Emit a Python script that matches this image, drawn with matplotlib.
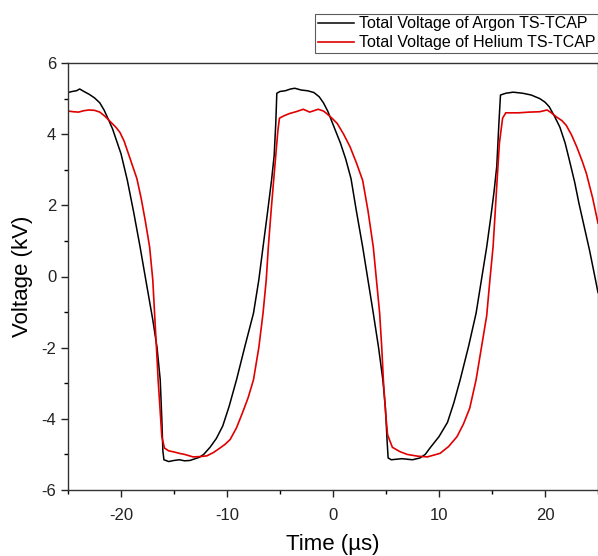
import matplotlib
matplotlib.use("Agg")
import matplotlib.pyplot as plt
from matplotlib.ticker import MultipleLocator

plt.rcParams['font.family'] = ['Liberation Sans', 'DejaVu Sans']

# Argon TS-TCAP (black): time (µs), voltage (kV)
argon_t = [-25.0, -24.6, -24.2, -23.9, -23.5, -23.0, -22.5, -22.0, -21.6, -21.2,
           -20.8, -20.4, -20.0, -19.4, -18.8, -18.2, -17.6, -17.0, -16.6, -16.3,
           -16.15, -16.05, -15.95, -15.5, -15.0, -14.5, -14.0, -13.5, -13.0, -12.6,
           -12.2, -11.6, -11.0, -10.4, -9.8, -9.1, -8.3, -7.5, -7.0, -6.6,
           -6.2, -5.8, -5.55, -5.4, -5.3, -5.0, -4.5, -4.0, -3.6, -3.0,
           -2.4, -1.8, -1.3, -0.9, -0.5, -0.1, 0.3, 0.7, 1.2, 1.7,
           2.2, 2.8, 3.3, 3.8, 4.3, 4.7, 4.95, 5.1, 5.2, 5.5,
           6.5, 7.5, 8.2, 8.7, 9.2, 10.0, 10.8, 11.4, 12.0, 12.8,
           13.5, 14.0, 14.5, 14.9, 15.2, 15.45, 15.65, 15.8, 16.3, 17.0,
           17.9, 18.7, 19.5, 20.0, 20.4, 20.9, 21.4, 21.9, 22.3, 22.8,
           23.2, 23.7, 24.2, 24.6, 25.0]
argon_v = [5.17, 5.20, 5.22, 5.27, 5.20, 5.12, 5.02, 4.88, 4.68, 4.42,
           4.15, 3.80, 3.45, 2.70, 1.80, 0.83, -0.20, -1.22, -2.00, -2.90,
           -4.00, -4.90, -5.15, -5.20, -5.17, -5.15, -5.18, -5.17, -5.12, -5.08,
           -5.00, -4.80, -4.55, -4.20, -3.65, -2.90, -1.95, -1.03, -0.10, 0.83,
           1.75, 2.70, 3.40, 4.30, 5.15, 5.20, 5.22, 5.27, 5.29, 5.24,
           5.22, 5.17, 5.05, 4.88, 4.65, 4.35, 4.05, 3.75, 3.30, 2.75,
           1.85, 0.83, -0.10, -1.03, -2.00, -2.90, -3.70, -4.60, -5.10, -5.15,
           -5.12, -5.15, -5.10, -5.00, -4.80, -4.50, -4.10, -3.55, -2.90, -1.95,
           -1.03, -0.10, 0.83, 1.70, 2.40, 3.10, 4.30, 5.10, 5.15, 5.18,
           5.15, 5.10, 5.00, 4.90, 4.77, 4.50, 4.20, 3.75, 3.27, 2.65,
           2.06, 1.40, 0.74, 0.15, -0.45]

# Helium TS-TCAP (red): time (µs), voltage (kV)
helium_t = [-25.0, -24.5, -24.0, -23.5, -23.0, -22.5, -22.0, -21.5, -21.0, -20.5,
            -20.1, -19.7, -19.3, -18.9, -18.5, -18.1, -17.7, -17.3, -17.0, -16.8,
            -16.6, -16.5, -16.3, -16.15, -15.9, -15.5, -15.0, -14.5, -14.0, -13.2,
            -12.5, -11.9, -11.3, -10.8, -10.2, -9.7, -9.1, -8.5, -8.0, -7.5,
            -7.0, -6.6, -6.3, -6.1, -5.85, -5.6, -5.4, -5.2, -5.05, -4.6,
            -4.1, -3.5, -2.8, -2.2, -1.4, -0.9, -0.6, -0.1, 0.4, 1.0,
            1.6, 2.2, 2.8, 3.3, 3.8, 4.1, 4.4, 4.6, 4.75, 4.95,
            5.15, 5.6, 6.3, 7.0, 8.0, 8.9, 9.5, 10.1, 10.9, 11.7,
            12.3, 12.9, 13.5, 14.0, 14.5, 14.8, 15.1, 15.3, 15.5, 15.7,
            16.0, 16.3, 17.5, 18.5, 19.5, 20.2, 20.6, 21.1, 21.6, 22.0,
            22.5, 23.0, 23.5, 23.9, 24.5, 25.0]
helium_v = [4.65, 4.63, 4.62, 4.66, 4.68, 4.67, 4.62, 4.50, 4.35, 4.20,
            4.05, 3.80, 3.45, 3.10, 2.75, 2.20, 1.55, 0.83, -0.10, -1.22,
            -2.30, -2.90, -3.80, -4.50, -4.82, -4.90, -4.93, -4.97, -5.00, -5.07,
            -5.06, -5.04, -4.95, -4.85, -4.72, -4.58, -4.25, -3.80, -3.40, -2.90,
            -2.00, -1.03, -0.10, 0.83, 1.80, 2.70, 3.40, 4.10, 4.45, 4.52,
            4.58, 4.63, 4.70, 4.62, 4.70, 4.65, 4.58, 4.45, 4.30, 4.00,
            3.65, 3.20, 2.70, 1.85, 0.83, -0.10, -1.03, -2.00, -2.90, -3.80,
            -4.45, -4.80, -4.92, -5.00, -5.05, -5.07, -5.02, -4.97, -4.78, -4.50,
            -4.15, -3.70, -2.90, -2.00, -1.10, -0.10, 0.83, 1.80, 2.80, 3.75,
            4.45, 4.60, 4.60, 4.62, 4.63, 4.68, 4.60, 4.48, 4.38, 4.25,
            3.98, 3.64, 3.25, 2.90, 2.20, 1.50]

xticks = [-20, -10, 0, 10, 20]
yticks = [-6, -4, -2, 0, 2, 4, 6]

fig = plt.figure(figsize=(5.98, 5.56), dpi=100)
ax = fig.add_axes([68/598, 1 - 490/556, (598 - 68)/598, (490 - 63)/556])

ax.plot(argon_t, argon_v, color='black', lw=1.1, label='Total Voltage of Argon TS-TCAP')
ax.plot(helium_t, helium_v, color='#e00000', lw=1.2, label='Total Voltage of Helium TS-TCAP')

ax.set_xlim(-25, 25)
ax.set_ylim(-6, 6)
ax.set_xticks(xticks)
ax.set_yticks(yticks)
ax.set_xticklabels([str(v) for v in xticks])
ax.set_yticklabels([str(v) for v in yticks])
ax.xaxis.set_minor_locator(MultipleLocator(5))
ax.yaxis.set_minor_locator(MultipleLocator(1))
ax.tick_params(which='major', direction='out', length=5, width=1, labelsize=12, colors='#222222')
ax.tick_params(which='minor', direction='out', length=3, width=1)
ax.tick_params(axis='x', pad=8)
for s in ax.spines.values():
    s.set_linewidth(1.0)
    s.set_color('#333333')

ax.set_xlabel('Time (µs)', fontsize=16, labelpad=8)
ax.set_ylabel('Voltage (kV)', fontsize=16, labelpad=6)

leg = ax.legend(loc='upper right', bbox_to_anchor=(1.0, 1 - 14/556),
                bbox_transform=fig.transFigure, fontsize=11.5, frameon=True,
                fancybox=False, borderaxespad=0, borderpad=0.15,
                handlelength=2.3, handletextpad=0.3, labelspacing=0.25)
leg.get_frame().set_edgecolor('#333333')
leg.get_frame().set_linewidth(0.8)

fig.savefig('out.png', dpi=100)
